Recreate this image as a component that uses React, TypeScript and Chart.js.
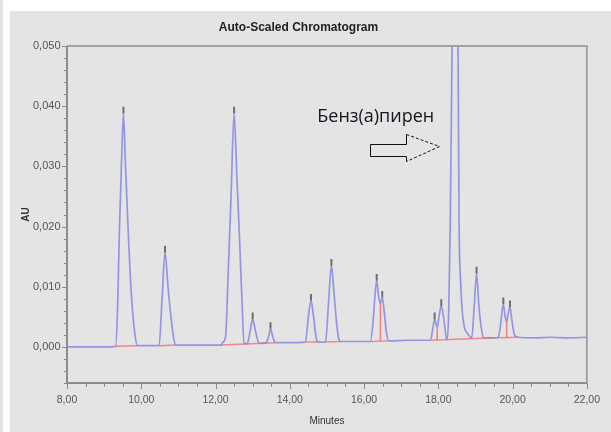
import React, { useEffect, useRef } from 'react';
import { Chart, registerables } from 'chart.js';

Chart.register(...registerables);

// ---- chromatogram trace (minutes, AU) ----
const times = [
  8.0, 8.5, 9.0, 9.31, 9.36, 9.41, 9.47, 9.52, 9.57, 9.65, 9.73, 9.82, 9.9,
  10.2, 10.48, 10.56, 10.64, 10.72, 10.8, 10.88, 10.93, 11.5, 12.0,
  12.15, 12.2, 12.27, 12.34, 12.42, 12.5, 12.57, 12.64, 12.71, 12.77,
  12.85, 12.93, 13.0, 13.07, 13.13, 13.18, 13.37, 13.43, 13.48, 13.54, 13.61,
  14.0, 14.42, 14.5, 14.57, 14.64, 14.71, 14.77, 14.96, 15.04, 15.12, 15.19,
  15.26, 15.32, 15.37, 15.8, 16.17, 16.24, 16.3, 16.34, 16.39, 16.44, 16.49,
  16.54, 16.6, 16.66, 17.2, 17.79, 17.85, 17.9, 17.97, 18.03, 18.08, 18.14,
  18.2, 18.24, 18.28, 18.32, 18.37, 18.45, 18.53, 18.56, 18.6, 18.65, 18.7,
  18.8, 18.9, 18.96, 19.03, 19.09, 19.16, 19.23, 19.59, 19.65, 19.7, 19.75,
  19.8, 19.84, 19.88, 19.93, 19.98, 20.05, 20.15, 20.6, 21.0, 21.5, 22.0,
];
const au = [
  0.0, 0.0, 0.0, 0.0001, 0.006, 0.019, 0.031, 0.0388, 0.031, 0.019, 0.009, 0.0025, 0.0002,
  0.0002, 0.0002, 0.008, 0.0157, 0.01, 0.005, 0.0012, 0.0003, 0.0003, 0.0003,
  0.0003, 0.0008, 0.0017, 0.012, 0.0255, 0.0388, 0.029, 0.019, 0.008, 0.0006,
  0.0005, 0.0025, 0.0046, 0.0028, 0.0012, 0.0006, 0.0007, 0.0018, 0.003, 0.0017, 0.0007,
  0.0007, 0.0008, 0.005, 0.0077, 0.005, 0.0015, 0.0008, 0.0008, 0.007, 0.0135, 0.009,
  0.004, 0.0013, 0.0009, 0.0009, 0.0009, 0.004, 0.009, 0.011, 0.0085, 0.0072, 0.0082,
  0.006, 0.0025, 0.001, 0.0011, 0.0011, 0.003, 0.0046, 0.0032, 0.0055, 0.0068, 0.005,
  0.002, 0.0012, 0.006, 0.02, 0.05, 0.1, 0.05, 0.02, 0.011, 0.0055, 0.0033,
  0.0021, 0.0015, 0.006, 0.0122, 0.007, 0.003, 0.0015, 0.0015, 0.0025, 0.005, 0.0071,
  0.005, 0.0042, 0.0055, 0.0066, 0.0045, 0.002, 0.0016, 0.0015, 0.0016, 0.0015, 0.0016,
];

// ---- peak apex marks ----
const apexTimes = [9.52, 10.64, 12.5, 13.0, 13.48, 14.57, 15.12, 16.34, 16.49, 17.9, 18.08, 19.03, 19.75, 19.93];
const apexValues = [0.0388, 0.0157, 0.0388, 0.0046, 0.003, 0.0077, 0.0135, 0.011, 0.0082, 0.0046, 0.0068, 0.0122, 0.0071, 0.0066];

// ---- integration baselines (red) ----
const baseFromT = [9.31, 10.48, 12.15, 14.42, 14.96, 16.17, 17.79, 19.59];
const baseFromV = [0.0001, 0.0002, 0.0003, 0.0008, 0.0008, 0.0009, 0.0011, 0.0015];
const baseToT = [9.9, 10.93, 13.61, 14.77, 15.37, 16.66, 19.5, 20.15];
const baseToV = [0.0002, 0.0003, 0.0007, 0.0008, 0.0009, 0.001, 0.0015, 0.0016];

// ---- drop lines between fused peaks ----
const dropT = [16.44, 17.97, 19.84];
const dropFrom = [0.00095, 0.00115, 0.00155];
const dropTo = [0.0072, 0.0032, 0.0042];

// ---- axes ----
const xTicks = [8, 10, 12, 14, 16, 18, 20, 22];
const yTicks = [0, 0.01, 0.02, 0.03, 0.04, 0.05];
const xRange = [8, 22];
const yRange = [-0.006, 0.05];

// ---- annotation ----
const labelText = 'Бенз(а)пирен';
const labelAt = [14.74, 0.0374];
const arrowT = [16.17, 17.12, 18.01]; // tail, head base, tip
const arrowV = [0.03367, 0.03172, 0.03533, 0.03088, 0.0333]; // body top, body bottom, head top, head bottom, tip

const SANS = "'Liberation Sans', Arial, sans-serif";

function segs(ts1: number[], vs1: number[], ts2: number[], vs2: number[]) {
  const out: any[] = [];
  ts1.forEach((t, i) => {
    out.push({ x: t, y: vs1[i] });
    out.push({ x: ts2[i], y: vs2[i] });
    out.push({ x: ts2[i], y: null });
  });
  return out;
}

const bgPlugin = {
  id: 'bgPanel',
  beforeDraw(chart: any) {
    const { ctx, width, height } = chart;
    ctx.save();
    ctx.fillStyle = '#ffffff';
    ctx.fillRect(0, 0, width, height);
    ctx.fillStyle = '#e4e4e4';
    ctx.fillRect(0, 0, 3, height);
    ctx.fillRect(10, 11, width - 10, height - 11);
    ctx.restore();
  },
};

const framePlugin = {
  id: 'frameTicks',
  afterDatasetsDraw(chart: any) {
    const { ctx, chartArea: a, scales } = chart;
    const x = scales.x;
    const y = scales.y;
    ctx.save();
    ctx.strokeStyle = '#a2a2a2';
    ctx.lineWidth = 2;
    ctx.beginPath();
    ctx.moveTo(a.left, a.top);
    ctx.lineTo(a.right, a.top);
    ctx.lineTo(a.right, a.bottom);
    ctx.stroke();
    ctx.strokeStyle = '#8c8c8c';
    ctx.beginPath();
    ctx.moveTo(a.left, a.top);
    ctx.lineTo(a.left, a.bottom);
    ctx.lineTo(a.right, a.bottom);
    ctx.stroke();
    ctx.lineWidth = 1;
    ctx.strokeStyle = '#8a8a8a';
    for (let i = 0; i <= (xRange[1] - xRange[0]) * 2; i++) {
      const v = xRange[0] + i * 0.5;
      const px = Math.round(x.getPixelForValue(v)) + 0.5;
      const major = i % 4 === 0;
      ctx.beginPath();
      ctx.moveTo(px, a.bottom);
      ctx.lineTo(px, a.bottom + (major ? 6 : 4));
      ctx.stroke();
    }
    for (let i = -3; i <= 25; i++) {
      const v = i * 0.002;
      const py = Math.round(y.getPixelForValue(v)) + 0.5;
      const major = i % 5 === 0 && i >= 0;
      ctx.beginPath();
      ctx.moveTo(a.left, py);
      ctx.lineTo(a.left - (major ? 5 : 3), py);
      ctx.stroke();
    }
    ctx.restore();
  },
};

const annotationPlugin = {
  id: 'arrowNote',
  afterDatasetsDraw(chart: any) {
    const { ctx, scales } = chart;
    const x = scales.x;
    const y = scales.y;
    ctx.save();
    ctx.fillStyle = '#15151f';
    ctx.font = "18px 'Open Sans', 'Noto Sans', sans-serif";
    ctx.textBaseline = 'alphabetic';
    ctx.textAlign = 'left';
    ctx.fillText(labelText, x.getPixelForValue(labelAt[0]), y.getPixelForValue(labelAt[1]));

    const xs = Math.round(x.getPixelForValue(arrowT[0])) + 0.5;
    const xm = Math.round(x.getPixelForValue(arrowT[1])) + 0.5;
    const xt = Math.round(x.getPixelForValue(arrowT[2])) + 0.5;
    const bt = Math.round(y.getPixelForValue(arrowV[0])) + 0.5;
    const bb = Math.round(y.getPixelForValue(arrowV[1])) + 0.5;
    const ht = Math.round(y.getPixelForValue(arrowV[2])) + 0.5;
    const hb = Math.round(y.getPixelForValue(arrowV[3])) + 0.5;
    const tp = Math.round(y.getPixelForValue(arrowV[4])) + 0.5;
    ctx.strokeStyle = '#111111';
    ctx.lineWidth = 1;
    ctx.beginPath();
    ctx.moveTo(xm, ht);
    ctx.lineTo(xm, bt);
    ctx.lineTo(xs, bt);
    ctx.lineTo(xs, bb);
    ctx.lineTo(xm, bb);
    ctx.lineTo(xm, hb);
    ctx.stroke();
    ctx.setLineDash([3, 2]);
    ctx.beginPath();
    ctx.moveTo(xm, ht);
    ctx.lineTo(xt, tp);
    ctx.lineTo(xm, hb);
    ctx.stroke();
    ctx.restore();
  },
};

export default function App() {
  const ref = useRef<HTMLCanvasElement | null>(null);

  useEffect(() => {
    document.body.style.margin = '0';
    const canvas = ref.current;
    if (!canvas) return;

    const trace = times.map((t, i) => ({ x: t, y: au[i] }));
    const apexData: any[] = [];
    apexTimes.forEach((t, i) => {
      apexData.push({ x: t, y: apexValues[i] });
      apexData.push({ x: t, y: apexValues[i] + 0.0011 });
      apexData.push({ x: t, y: null });
    });
    const baseData = segs(baseFromT, baseFromV, baseToT, baseToV);
    const dropData = segs(dropT, dropFrom, dropT, dropTo);

    const chart = new Chart(canvas, {
      type: 'line',
      data: {
        datasets: [
          {
            label: 'apex',
            data: apexData,
            borderColor: 'rgba(90,90,90,0.85)',
            borderWidth: 2,
            pointRadius: 0,
            spanGaps: false,
            order: 1,
          },
          {
            label: 'baseline',
            data: baseData,
            borderColor: 'rgba(238,110,110,0.75)',
            borderWidth: 1.5,
            pointRadius: 0,
            spanGaps: false,
            order: 2,
          },
          {
            label: 'drop',
            data: dropData,
            borderColor: 'rgba(238,110,110,0.85)',
            borderWidth: 1.5,
            pointRadius: 0,
            spanGaps: false,
            order: 2,
          },
          {
            label: 'AU',
            data: trace,
            borderColor: 'rgba(110,110,228,0.68)',
            borderWidth: 1.7,
            pointRadius: 0,
            cubicInterpolationMode: 'monotone',
            order: 3,
          },
        ],
      },
      options: {
        animation: false,
        responsive: false,
        devicePixelRatio: 1,
        layout: { padding: { left: 10, top: 0, right: 24, bottom: 0 } },
        plugins: {
          legend: { display: false },
          tooltip: { enabled: false },
          title: {
            display: true,
            text: 'Auto-Scaled Chromatogram',
            color: '#222222',
            font: { family: SANS, size: 12, weight: 'bold' },
            padding: { top: 20.8, bottom: 10.8 },
          },
        },
        scales: {
          x: {
            type: 'linear',
            min: xRange[0],
            max: xRange[1],
            afterBuildTicks: (s: any) => {
              s.ticks = xTicks.map((v) => ({ value: v }));
            },
            afterFit: (s: any) => {
              s.height = 49;
            },
            ticks: {
              color: '#555555',
              font: { family: SANS, size: 10.5 },
              padding: 11,
              maxRotation: 0,
              autoSkip: false,
              callback: (v: any) => Number(v).toFixed(2).replace('.', ','),
            },
            grid: { display: false, drawTicks: false },
            border: { display: false },
            title: {
              display: true,
              text: 'Minutes',
              color: '#333333',
              font: { family: SANS, size: 10 },
              padding: { top: 0, bottom: 5 },
            },
          },
          y: {
            type: 'linear',
            min: yRange[0],
            max: yRange[1],
            afterBuildTicks: (s: any) => {
              s.ticks = yTicks.map((v) => ({ value: v }));
            },
            afterFit: (s: any) => {
              s.width = 57;
            },
            ticks: {
              color: '#555555',
              font: { family: SANS, size: 11 },
              padding: 6.5,
              autoSkip: false,
              callback: (v: any) => Number(v).toFixed(3).replace('.', ','),
            },
            grid: { display: false, drawTicks: false },
            border: { display: false },
            title: {
              display: true,
              text: 'AU',
              color: '#333333',
              font: { family: SANS, size: 10, weight: 'bold' },
              padding: { top: 10, bottom: 0 },
            },
          },
        },
      },
      plugins: [bgPlugin, framePlugin, annotationPlugin],
    } as any);

    return () => chart.destroy();
  }, []);

  return <canvas ref={ref} width={611} height={432} style={{ display: 'block' }} />;
}
